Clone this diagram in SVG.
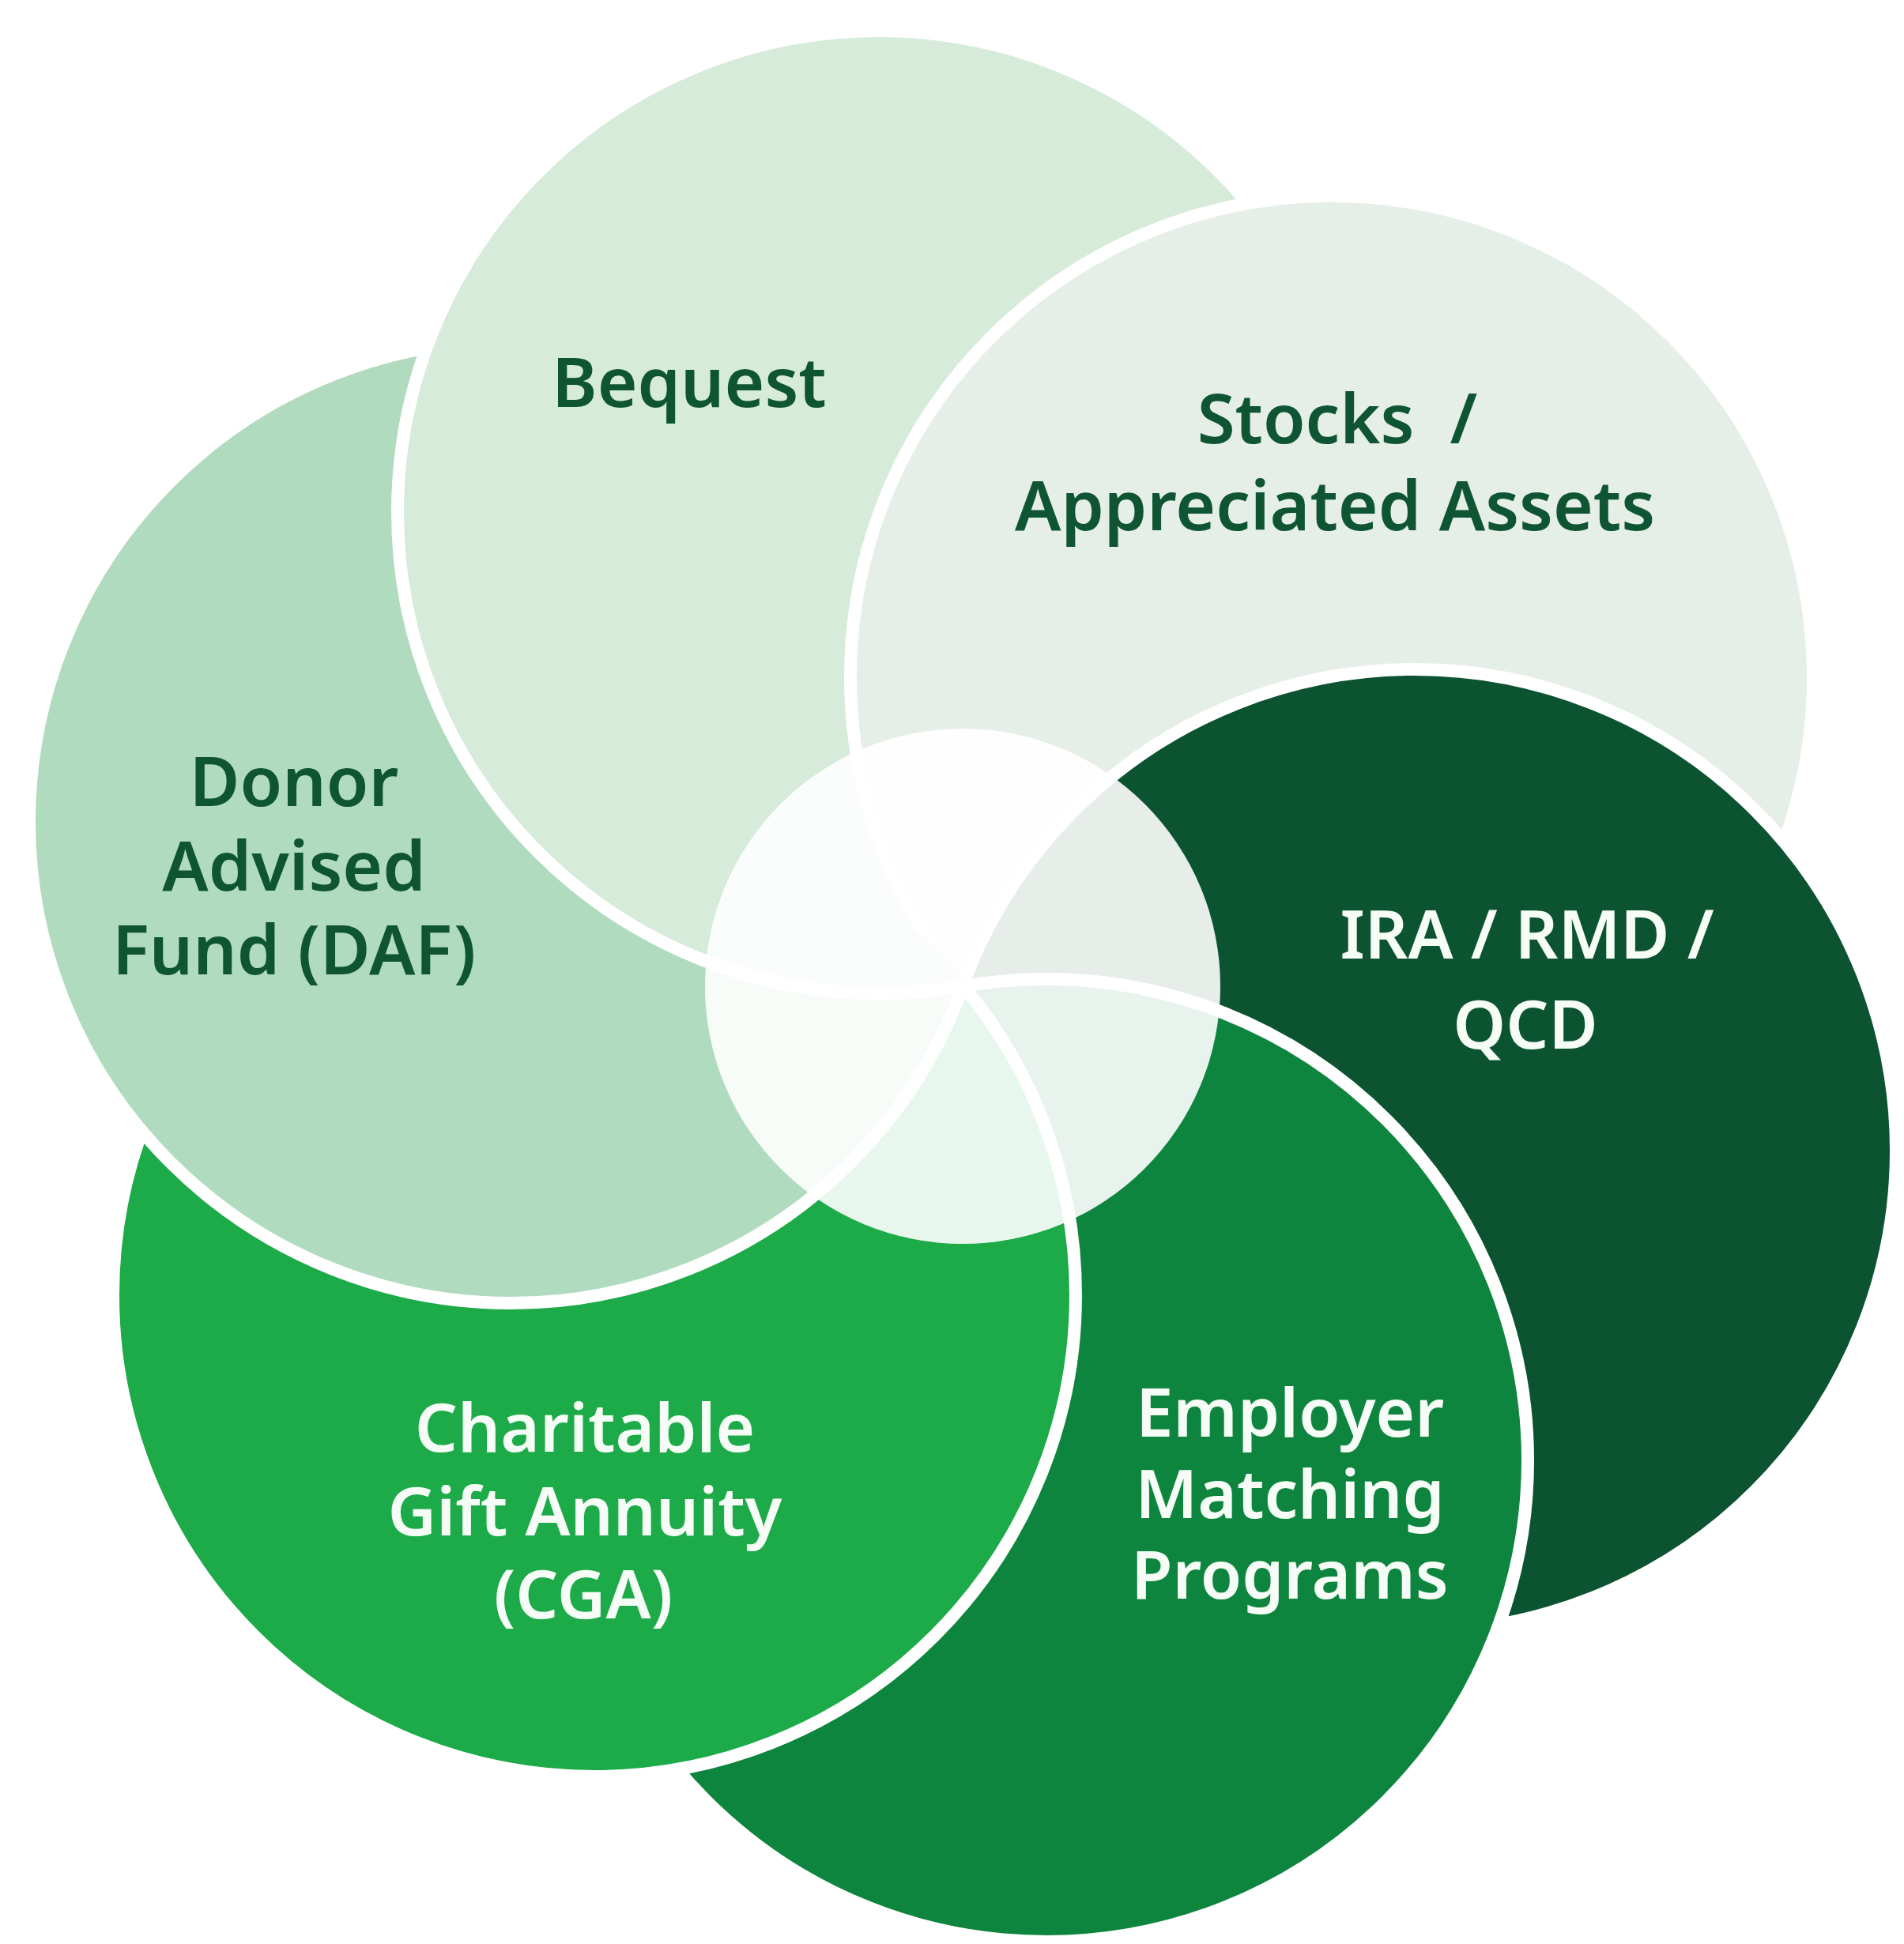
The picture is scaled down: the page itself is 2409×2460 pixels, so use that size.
<svg xmlns="http://www.w3.org/2000/svg" width="2409" height="2460" viewBox="0 0 2409 2460">
  <style>
    .petal { stroke: #ffffff; stroke-width: 16; }
    .edge { fill: none; stroke: #ffffff; stroke-width: 16; }
    .daf { fill: #b1dbbf; }
    .beq { fill: #d6ebda; }
    .stk { fill: #e5efe8; }
    .ira { fill: #0c5331; }
    .emp { fill: #0e853f; }
    .cga { fill: #1cab48; }
    .lbl { font-family: "Noto Sans", "Liberation Sans", sans-serif; text-anchor: middle; white-space: pre; font-weight: 600; }
    .dark { fill: #0f5534; font-size: 87px; }
    .light { fill: #f6fcf6; font-size: 85px; }
  </style>
  <defs>
    <clipPath id="clipLower">
      <circle cx="752" cy="1639" r="611"/>
      <circle cx="1324" cy="1848" r="611"/>
    </clipPath>
    <clipPath id="clipCga">
      <circle cx="752" cy="1639" r="616"/>
    </clipPath>
    <mask id="noDaf" maskUnits="userSpaceOnUse" x="0" y="0" width="2409" height="2460">
      <rect x="0" y="0" width="2409" height="2460" fill="#ffffff"/>
      <circle cx="646" cy="1040" r="610" fill="#000000"/>
    </mask>
  </defs>
  <rect x="0" y="0" width="2409" height="2460" fill="#ffffff"/>

  <g id="connectors"></g>

  <g id="circles">
    <circle id="c-daf" class="petal daf" cx="646" cy="1040" r="609"/>
    <circle id="c-bequest" class="petal beq" cx="1112" cy="648" r="609"/>
    <circle id="c-stocks" class="petal stk" cx="1685" cy="857" r="609"/>
    <circle id="c-ira" class="petal ira" cx="1790" cy="1456" r="609"/>
    <circle id="c-employer" class="petal emp" cx="1324" cy="1848" r="609"/>
    <circle id="c-cga" class="cga" cx="752" cy="1639" r="609"/>
    <circle class="edge" cx="752" cy="1639" r="609" mask="url(#noDaf)"/>
    <g clip-path="url(#clipLower)">
      <circle class="petal daf" cx="646" cy="1040" r="609"/>
    </g>
    <g clip-path="url(#clipCga)">
      <circle class="petal beq" cx="1112" cy="648" r="609"/>
    </g>
  </g>

  <g id="center">
    <circle cx="1218" cy="1248" r="326" fill="#ffffff" fill-opacity="0.9"/>
  </g>

  <g id="node-bequest">
    <text class="lbl dark" x="872" y="515">Bequest</text>
  </g>
  <g id="node-stocks">
    <text class="lbl dark" x="1692" y="561">Stocks  /</text>
    <text class="lbl dark" x="1689" y="671">Appreciated Assets</text>
  </g>
  <g id="node-daf">
    <text class="lbl dark" x="372" y="1020">Donor</text>
    <text class="lbl dark" x="372" y="1127">Advised</text>
    <text class="lbl dark" x="372" y="1233">Fund (DAF)</text>
  </g>
  <g id="node-ira">
    <text class="lbl light" x="1932" y="1213">IRA / RMD /</text>
    <text class="lbl light" x="1930" y="1327">QCD</text>
  </g>
  <g id="node-cga">
    <text class="lbl light" x="740" y="1837">Charitable</text>
    <text class="lbl light" x="740" y="1943">Gift Annuity</text>
    <text class="lbl light" x="738" y="2048">(CGA)</text>
  </g>
  <g id="node-employer">
    <text class="lbl light" x="1632" y="1818">Employer</text>
    <text class="lbl light" x="1632" y="1921">Matching</text>
    <text class="lbl light" x="1632" y="2023">Programs</text>
  </g>
</svg>
